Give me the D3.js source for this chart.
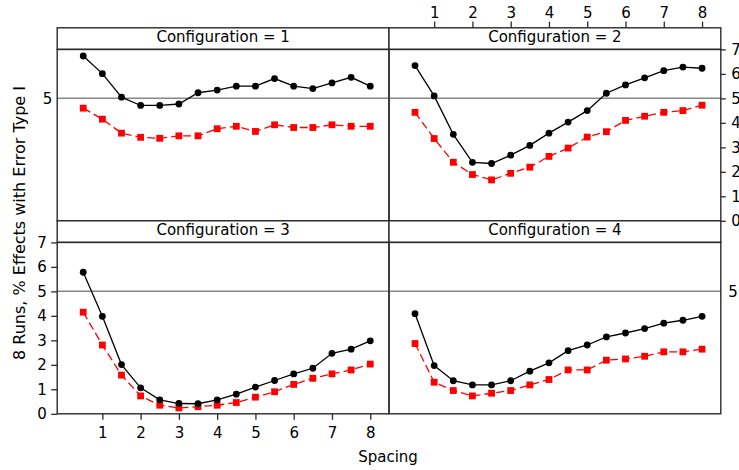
<!DOCTYPE html>
<html>
<head>
<meta charset="utf-8">
<script src="https://cdn.jsdelivr.net/npm/d3@7"></script>
<style>
  html, body { margin: 0; padding: 0; background: #fff; }
  svg { display: block; font-family: "DejaVu Sans", sans-serif; }
</style>
</head>
<body>
<svg id="chart" width="739" height="470"></svg>
<script>
// Spacing values shared by every panel
const spacing = [0.5, 1, 1.5, 2, 2.5, 3, 3.5, 4, 4.5, 5, 5.5, 6, 6.5, 7, 7.5, 8];
const configurations = [1, 2, 3, 4];
const xTicks = [1, 2, 3, 4, 5, 6, 7, 8];
const yTicksFull = [0, 1, 2, 3, 4, 5, 6, 7];
const yTicksShort = [5];

// % effects with error type I — solid (circles) and dashed (squares) series
const config1Circles = [6.73, 6.01, 5.05, 4.71, 4.71, 4.77, 5.23, 5.34, 5.50, 5.50, 5.81, 5.50, 5.40, 5.63, 5.86, 5.50];
const config1Squares = [4.60, 4.15, 3.58, 3.41, 3.37, 3.47, 3.47, 3.76, 3.86, 3.65, 3.92, 3.81, 3.81, 3.92, 3.86, 3.86];
const config2Circles = [6.34, 5.10, 3.53, 2.39, 2.34, 2.68, 3.08, 3.58, 4.03, 4.50, 5.21, 5.55, 5.84, 6.13, 6.28, 6.23];
const config2Squares = [4.43, 3.36, 2.39, 1.89, 1.67, 1.94, 2.19, 2.63, 2.97, 3.42, 3.64, 4.10, 4.27, 4.43, 4.50, 4.72];
const config3Circles = [5.78, 3.98, 2.01, 1.06, 0.57, 0.42, 0.41, 0.57, 0.80, 1.09, 1.36, 1.63, 1.86, 2.47, 2.64, 2.98];
const config3Squares = [4.15, 2.81, 1.58, 0.73, 0.35, 0.24, 0.29, 0.35, 0.46, 0.68, 0.90, 1.20, 1.45, 1.63, 1.79, 2.03];
const config4Circles = [4.09, 1.97, 1.35, 1.18, 1.18, 1.35, 1.74, 2.08, 2.58, 2.81, 3.14, 3.30, 3.48, 3.70, 3.82, 3.98];
const config4Squares = [2.87, 1.29, 0.95, 0.73, 0.84, 0.95, 1.18, 1.40, 1.79, 1.79, 2.19, 2.24, 2.35, 2.53, 2.53, 2.64];
const referenceLevel = 5;

const circleSets = [config1Circles, config2Circles, config3Circles, config4Circles];
const squareSets = [config1Squares, config2Squares, config3Squares, config4Squares];

const svg = d3.select("#chart");
const font = "DejaVu Sans, sans-serif";

// Panel grid geometry (2 x 2, panels share borders)
const colLeft = [57.2, 389];
const panelW = 331.8;
const rowTop = [27.8, 220.8];
const stripH = 21.6;
const panelH = 171.4;

const x = d3.scaleLinear().domain([-0.18, 8.49]).range([0, panelW]);
const y = d3.scaleLinear().domain([0, 7]).range([panelH, 0]);

const borderColor = "#2b2b2b";

// Top row holds configurations 1 and 2, bottom row 3 and 4
const panelPos = [
  { col: 0, row: 0 }, { col: 1, row: 0 },
  { col: 0, row: 1 }, { col: 1, row: 1 }
];

configurations.forEach((cfg, i) => {
  const pos = panelPos[i];
  const px = colLeft[pos.col];
  const sy = rowTop[pos.row];
  const py = sy + stripH;

  // strip
  svg.append("rect")
    .attr("x", px).attr("y", sy).attr("width", panelW).attr("height", stripH)
    .attr("fill", "#fff").attr("stroke", borderColor).attr("stroke-width", 1.4);
  svg.append("text")
    .attr("x", px + panelW / 2).attr("y", sy + 14.6)
    .attr("text-anchor", "middle")
    .attr("font-size", 15).attr("fill", "#000")
    .text(`Configuration = ${cfg}`);

  const g = svg.append("g").attr("transform", `translate(${px},${py})`);

  // reference line
  g.append("line")
    .attr("x1", 0).attr("x2", panelW)
    .attr("y1", y(referenceLevel)).attr("y2", y(referenceLevel))
    .attr("stroke", "#888").attr("stroke-width", 1.5);

  const pts = spacing.map((s, k) => ({ s, c: circleSets[i][k], q: squareSets[i][k] }));

  const lineC = d3.line().x(d => x(d.s)).y(d => y(d.c));
  const lineQ = d3.line().x(d => x(d.s)).y(d => y(d.q));

  g.append("path").datum(pts)
    .attr("d", lineQ).attr("fill", "none")
    .attr("stroke", "#ff0000").attr("stroke-width", 1.3)
    .attr("stroke-dasharray", "8,4");
  g.selectAll("rect.sq").data(pts).join("rect")
    .attr("class", "sq")
    .attr("x", d => x(d.s) - 3.4).attr("y", d => y(d.q) - 3.4)
    .attr("width", 6.8).attr("height", 6.8)
    .attr("fill", "#ff0000");

  g.append("path").datum(pts)
    .attr("d", lineC).attr("fill", "none")
    .attr("stroke", "#000").attr("stroke-width", 1.3);
  g.selectAll("circle.pt").data(pts).join("circle")
    .attr("class", "pt")
    .attr("cx", d => x(d.s)).attr("cy", d => y(d.c))
    .attr("r", 3.4).attr("fill", "#000");

  // panel border
  g.append("rect")
    .attr("x", 0).attr("y", 0).attr("width", panelW).attr("height", panelH)
    .attr("fill", "none").attr("stroke", borderColor).attr("stroke-width", 1.4);

  // axes
  const styleAxis = (sel) => {
    sel.select(".domain").remove();
    sel.selectAll("line").attr("stroke", borderColor).attr("stroke-width", 1.3);
    sel.selectAll("text").attr("font-size", 15).attr("font-family", font).attr("fill", "#000");
  };

  if (cfg === 1) {
    g.append("g")
      .call(d3.axisLeft(y).tickValues(yTicksShort).tickSize(0).tickPadding(4.8).tickFormat(d3.format("d")))
      .call(styleAxis);
  }
  if (cfg === 2) {
    g.append("g").attr("transform", `translate(${panelW},0)`)
      .call(d3.axisRight(y).tickValues(yTicksFull).tickSize(5).tickPadding(5.5).tickFormat(d3.format("d")))
      .call(styleAxis);
    // top x axis sits above the strip
    svg.append("g").attr("transform", `translate(${px},${sy})`)
      .call(d3.axisTop(x).tickValues(xTicks).tickSize(6.2).tickPadding(3.5).tickFormat(d3.format("d")))
      .call(styleAxis);
  }
  if (cfg === 3) {
    g.append("g")
      .call(d3.axisLeft(y).tickValues(yTicksFull).tickSize(6).tickPadding(4.3).tickFormat(d3.format("d")))
      .call(styleAxis);
    g.append("g").attr("transform", `translate(0,${panelH})`)
      .call(d3.axisBottom(x).tickValues(xTicks).tickSize(6).tickPadding(8).tickFormat(d3.format("d")))
      .call(styleAxis);
  }
  if (cfg === 4) {
    g.append("g").attr("transform", `translate(${panelW},0)`)
      .call(d3.axisRight(y).tickValues(yTicksShort).tickSize(0).tickPadding(7.5).tickFormat(d3.format("d")))
      .call(styleAxis);
  }
});

// axis titles
svg.append("text")
  .attr("x", 388).attr("y", 461.5)
  .attr("text-anchor", "middle").attr("font-size", 15).attr("fill", "#000")
  .text("Spacing");

svg.append("text")
  .attr("transform", "translate(25,223) rotate(-90)")
  .attr("text-anchor", "middle").attr("font-size", 16).attr("fill", "#000")
  .text("8 Runs, % Effects with Error Type I");
</script>
</body>
</html>
